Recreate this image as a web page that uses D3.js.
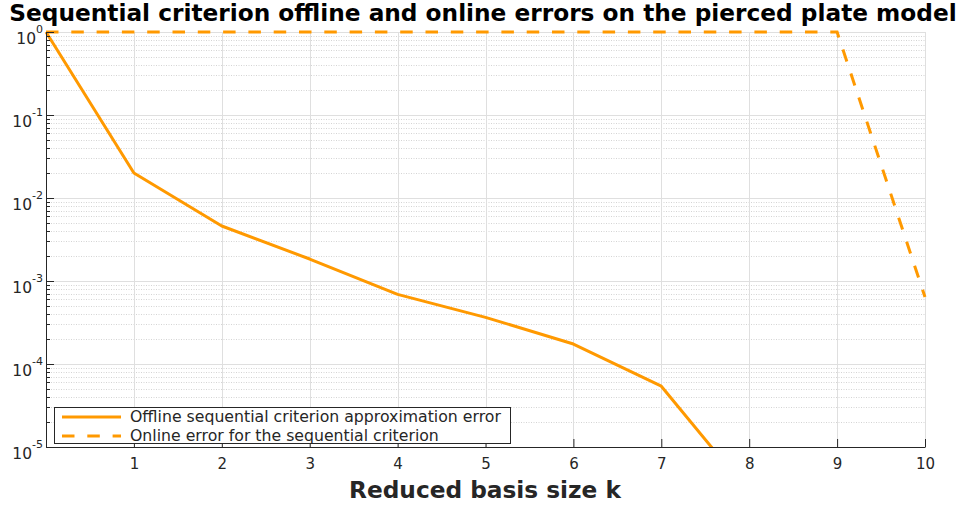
<!DOCTYPE html>
<html>
<head>
<meta charset="utf-8">
<script src="https://cdn.jsdelivr.net/npm/d3@7"></script>
<style>
  body { margin: 0; background: #fff; }
  svg { display: block; }
  text { font-family: "DejaVu Sans", Verdana, sans-serif; }
</style>
</head>
<body>
<svg id="chart" width="965" height="506"></svg>
<script>
'use strict';

const titleText = "Sequential criterion offline and online errors on the pierced plate model"
const xLabelText = "Reduced basis size k"

// basis size k
const offlineK = [0, 1, 2, 3, 4, 5, 6, 7, 8]
const offlineErr = [1, 0.02, 0.0046, 0.00184, 0.00069, 0.000365, 0.000174, 0.000054, 0.0000028]

const onlineK = [0, 1, 2, 3, 4, 5, 6, 7, 8, 9, 10]
const onlineErr = [1, 1, 1, 1, 1, 1, 1, 1, 1, 1, 0.00064]

const xTicks = [1, 2, 3, 4, 5, 6, 7, 8, 9, 10]
const yDecades = [0, -1, -2, -3, -4, -5]

const legendLabels = [
    "Offline sequential criterion approximation error",
    "Online error for the sequential criterion"
]

let lineChart = (function() {
    let svg = d3.select("#chart")
    let orange = "#ff9900"
    let axisColor = "#262626"

    let margin = {left: 46, right: 40, top: 32, bottom: 59}
    let width = 965 - margin.left - margin.right
    let height = 506 - margin.top - margin.bottom

    let x = d3.scaleLinear().domain([0, 10]).range([0, width])
    let y = d3.scaleLog().domain([1e-5, 1]).range([height, 0])

    function draw() {
        let g = svg.append("g")
            .attr("transform", "translate(" + margin.left + "," + margin.top + ")")

        g.append("clipPath").attr("id", "plot-clip")
            .append("rect")
            .attr("x", -2).attr("y", -2)
            .attr("width", width + 4).attr("height", height + 2)

        drawGrid(g)
        drawSeries(g)
        drawAxes(g)
        drawLegend(g)
        drawTexts()
    }

    function minorValues() {
        let vals = []
        for (let e = -5; e < 0; e++) {
            for (let m = 2; m <= 9; m++) vals.push(m * Math.pow(10, e))
        }
        return vals
    }

    function drawGrid(g) {
        let grid = g.append("g").attr("class", "grid")

        grid.selectAll("line.minor")
            .data(minorValues())
            .enter().append("line")
            .attr("class", "minor")
            .attr("x1", 0).attr("x2", width)
            .attr("y1", d => Math.round(y(d)) + 0.5)
            .attr("y2", d => Math.round(y(d)) + 0.5)
            .attr("stroke", "#d4d4d4")
            .attr("stroke-dasharray", "1,1.5")

        grid.selectAll("line.ymajor")
            .data(yDecades.map(e => Math.pow(10, e)))
            .enter().append("line")
            .attr("class", "ymajor")
            .attr("x1", 0).attr("x2", width)
            .attr("y1", d => Math.round(y(d)) + 0.5)
            .attr("y2", d => Math.round(y(d)) + 0.5)
            .attr("stroke", "#dfdfdf")

        grid.selectAll("line.xmajor")
            .data(xTicks)
            .enter().append("line")
            .attr("class", "xmajor")
            .attr("y1", 0).attr("y2", height)
            .attr("x1", d => Math.round(x(d)) + 0.5)
            .attr("x2", d => Math.round(x(d)) + 0.5)
            .attr("stroke", "#dfdfdf")
    }

    function drawSeries(g) {
        let line = d3.line()
            .x(d => x(d[0]))
            .y(d => y(d[1]))

        let plot = g.append("g").attr("clip-path", "url(#plot-clip)")

        plot.append("path")
            .datum(offlineK.map((k, i) => [k, offlineErr[i]]))
            .attr("d", line)
            .attr("fill", "none")
            .attr("stroke", orange)
            .attr("stroke-width", 3)
            .attr("stroke-linejoin", "round")

        plot.append("path")
            .datum(onlineK.map((k, i) => [k, onlineErr[i]]))
            .attr("d", line)
            .attr("fill", "none")
            .attr("stroke", orange)
            .attr("stroke-width", 3)
            .attr("stroke-dasharray", "12.5,12.8")
    }

    function drawAxes(g) {
        let xAxis = g.append("g")
            .attr("transform", "translate(0," + height + ")")
            .call(d3.axisBottom(x).tickValues(xTicks).tickSizeInner(-8).tickSizeOuter(0).tickPadding(11))
        xAxis.attr("font-size", 15).attr("font-family", "DejaVu Sans")
        xAxis.select(".domain").attr("stroke", axisColor)
        xAxis.selectAll(".tick line").attr("stroke", axisColor)
        xAxis.selectAll(".tick text").attr("fill", axisColor)

        let yAxis = g.append("g")
            .call(d3.axisLeft(y).tickValues(yDecades.map(e => Math.pow(10, e))).tickSizeInner(-8).tickSizeOuter(0).tickFormat(""))
        yAxis.select(".domain").attr("stroke", axisColor)
        yAxis.selectAll(".tick line").attr("stroke", axisColor)

        g.append("g").selectAll("line")
            .data(minorValues())
            .enter().append("line")
            .attr("x1", 0).attr("x2", 4)
            .attr("y1", d => Math.round(y(d)) + 0.5)
            .attr("y2", d => Math.round(y(d)) + 0.5)
            .attr("stroke", axisColor)

        let labels = g.append("g").selectAll("text")
            .data(yDecades)
            .enter().append("text")
            .attr("x", -3)
            .attr("y", d => y(Math.pow(10, d)) + 12)
            .attr("text-anchor", "end")
            .attr("fill", axisColor)
            .attr("font-size", 15.5)
        labels.append("tspan").text("10")
        labels.append("tspan")
            .attr("dy", -11)
            .attr("font-size", 11)
            .text(d => d === 0 ? "0" : "-" + Math.abs(d))
    }

    function drawLegend(g) {
        let lx = 54 - margin.left
        let ly = 407 - margin.top
        let legend = g.append("g").attr("transform", "translate(" + lx + "," + ly + ")")

        legend.append("rect")
            .attr("x", 0.5).attr("y", 0.5)
            .attr("width", 456).attr("height", 36)
            .attr("fill", "#fff")
            .attr("stroke", axisColor)

        let rows = legend.selectAll("g.row")
            .data(legendLabels)
            .enter().append("g")
            .attr("class", "row")
            .attr("transform", (d, i) => "translate(0," + (10 + i * 19) + ")")

        rows.append("line")
            .attr("x1", 8).attr("x2", 67)
            .attr("y1", 0).attr("y2", 0)
            .attr("stroke", orange)
            .attr("stroke-width", 3)
            .attr("stroke-dasharray", (d, i) => i === 1 ? "12.5,12.8" : null)

        let texts = rows.append("text")
            .attr("x", 76)
            .attr("y", 5)
            .attr("fill", axisColor)
            .attr("font-size", 14)
            .text(d => d)

        // size both rows from the first label's width
        let fs = 14 * 371 / texts.node().getComputedTextLength()
        texts.attr("font-size", fs)
    }

    function fitWidth(node, target) {
        let w = node.getComputedTextLength()
        let fs = +d3.select(node).attr("font-size")
        d3.select(node).attr("font-size", fs * target / w)
    }

    function drawTexts() {
        svg.append("text")
            .attr("x", 483)
            .attr("y", 21)
            .attr("text-anchor", "middle")
            .attr("font-weight", "bold")
            .attr("font-size", 22)
            .attr("fill", "#000")
            .text(titleText)
            .each(function() { fitWidth(this, 948) })

        svg.append("text")
            .attr("x", 485)
            .attr("y", 498)
            .attr("text-anchor", "middle")
            .attr("font-weight", "bold")
            .attr("font-size", 22)
            .attr("fill", axisColor)
            .text(xLabelText)
            .each(function() { fitWidth(this, 272) })
    }

    return { draw }
}())

lineChart.draw()
</script>
</body>
</html>
